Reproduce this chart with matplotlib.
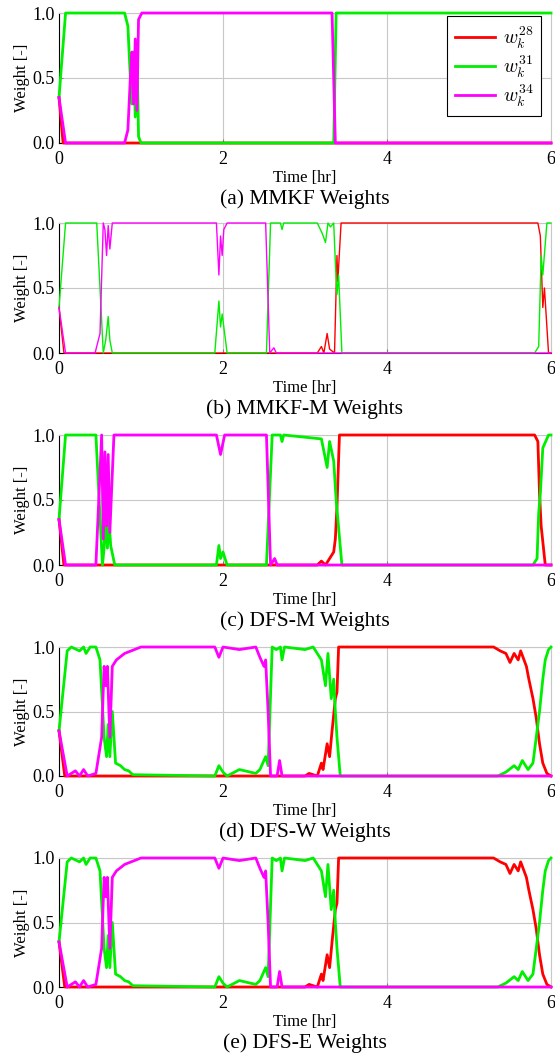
import matplotlib
matplotlib.use("Agg")
import matplotlib.pyplot as plt

plt.rcParams['font.family'] = ['Liberation Serif', 'DejaVu Serif']
plt.rcParams['mathtext.fontset'] = 'cm'

# ---------------- data ----------------
# (a) MMKF
a_t28 = [0, 0.05, 6]
a_w28 = [0.35, 0.0, 0.0]
a_t31 = [0, 0.08, 0.80, 0.84, 0.87, 0.89, 0.91, 0.93, 0.95, 0.97, 1.0, 3.35, 3.38, 6]
a_w31 = [0.35, 1.0, 1.0, 0.9, 0.5, 0.3, 0.7, 0.2, 0.75, 0.05, 0.0, 0.0, 1.0, 1.0]
a_t34 = [0, 0.08, 0.80, 0.84, 0.87, 0.89, 0.91, 0.93, 0.95, 0.97, 1.01, 3.33, 3.37, 6]
a_w34 = [0.35, 0.0, 0.0, 0.1, 0.5, 0.7, 0.3, 0.8, 0.25, 0.95, 1.0, 1.0, 0.0, 0.0]

# (b) MMKF-M
b_t28 = [0, 0.06, 3.15, 3.2, 3.23, 3.27, 3.3, 3.36, 3.39, 3.40, 3.44, 5.84, 5.87, 5.9, 5.92, 5.97, 6]
b_w28 = [0.35, 0.0, 0.0, 0.05, 0.0, 0.15, 0.03, 0.0, 0.75, 0.55, 1.0, 1.0, 0.9, 0.35, 0.5, 0.0, 0.0]
b_t31 = [0, 0.08, 0.46, 0.54, 0.57, 0.60, 0.62, 0.65, 1.90, 1.95, 1.97, 1.99, 2.05, 2.53, 2.58,
         2.7, 2.72, 2.74, 3.15, 3.21, 3.25, 3.28, 3.31, 3.35, 3.37, 3.39, 3.41, 3.45,
         5.80, 5.85, 5.88, 5.90, 5.95, 6]
b_w31 = [0.35, 1.0, 1.0, 0.0, 0.1, 0.28, 0.1, 0.0, 0.0, 0.4, 0.2, 0.3, 0.0, 0.0, 1.0,
         1.0, 0.95, 1.0, 1.0, 0.92, 0.85, 1.0, 0.97, 1.0, 0.7, 0.45, 0.6, 0.0,
         0.0, 0.05, 0.75, 0.6, 1.0, 1.0]
b_t34 = [0, 0.08, 0.44, 0.50, 0.54, 0.56, 0.58, 0.60, 0.62, 0.65, 1.92, 1.95, 1.97, 1.99, 2.01, 2.05,
         2.52, 2.57, 2.62, 2.65, 6]
b_w34 = [0.35, 0.0, 0.0, 0.15, 1.0, 0.95, 0.75, 0.98, 0.8, 1.0, 1.0, 0.6, 0.9, 0.75, 0.95, 1.0,
         1.0, 0.0, 0.04, 0.0, 0.0]

# (c) DFS-M
c_t28 = [0, 0.06, 3.15, 3.2, 3.25, 3.3, 3.35, 3.37, 3.39, 3.42, 5.80, 5.84, 5.86, 5.88, 5.93, 6]
c_w28 = [0.35, 0.0, 0.0, 0.03, 0.0, 0.05, 0.1, 0.2, 0.45, 1.0, 1.0, 0.95, 0.55, 0.3, 0.0, 0.0]
c_t31 = [0, 0.08, 0.45, 0.53, 0.55, 0.57, 0.59, 0.61, 0.63, 0.68, 1.92, 1.95, 1.97, 2.0, 2.05,
         2.53, 2.6, 2.7, 2.72, 2.74, 3.2, 3.27, 3.3, 3.35, 3.38, 3.45,
         5.78, 5.83, 5.85, 5.87, 5.9, 5.97, 6]
c_w31 = [0.35, 1.0, 1.0, 0.0, 0.13, 0.4, 0.13, 0.35, 0.15, 0.0, 0.0, 0.15, 0.05, 0.1, 0.0,
         0.0, 1.0, 1.0, 0.95, 1.0, 0.97, 0.75, 0.95, 0.8, 0.5, 0.0,
         0.0, 0.05, 0.4, 0.55, 0.9, 1.0, 1.0]
c_t34 = [0, 0.08, 0.45, 0.52, 0.54, 0.56, 0.58, 0.60, 0.62, 0.67, 1.92, 1.97, 2.02,
         2.53, 2.58, 2.63, 2.66, 6]
c_w34 = [0.35, 0.0, 0.0, 1.0, 0.2, 0.87, 0.3, 0.85, 0.25, 1.0, 1.0, 0.85, 1.0,
         1.0, 0.0, 0.05, 0.0, 0.0]

# (d) DFS-W
d_t28 = [0, 0.07, 3.0, 3.05, 3.15, 3.2, 3.22, 3.27, 3.3, 3.33, 3.37, 3.39, 3.41,
         5.3, 5.38, 5.45, 5.5, 5.55, 5.6, 5.63, 5.7, 5.73, 5.78, 5.82, 5.86, 5.9, 5.95, 6]
d_w28 = [0.35, 0.0, 0.0, 0.02, 0.0, 0.1, 0.05, 0.25, 0.15, 0.35, 0.6, 0.65, 1.0,
         1.0, 0.97, 0.95, 0.88, 0.95, 0.9, 0.97, 0.85, 0.75, 0.6, 0.45, 0.25, 0.1, 0.02, 0.0]
d_t31 = [0, 0.1, 0.15, 0.25, 0.3, 0.33, 0.38, 0.45, 0.5, 0.55, 0.58, 0.6, 0.62, 0.65, 0.67,
         0.69, 0.75, 0.8, 0.85, 0.9, 1.9, 1.95, 2.0, 2.05, 2.2, 2.4, 2.45, 2.52, 2.55, 2.6,
         2.65, 2.7, 2.72, 2.75, 3.0, 3.1, 3.2, 3.25, 3.28, 3.32, 3.35, 3.37, 3.39, 3.43,
         5.35, 5.45, 5.55, 5.6, 5.65, 5.72, 5.78, 5.82, 5.86, 5.9, 5.93, 5.97, 6]
d_w31 = [0.35, 0.97, 1.0, 0.97, 1.0, 0.95, 1.0, 1.0, 0.9, 0.3, 0.15, 0.4, 0.15, 0.5, 0.3,
         0.1, 0.08, 0.05, 0.04, 0.01, 0.0, 0.08, 0.03, 0.0, 0.05, 0.02, 0.05, 0.15, 0.08, 1.0,
         0.98, 1.0, 0.9, 1.0, 0.98, 1.0, 0.9, 0.7, 0.95, 0.6, 0.75, 0.5, 0.3, 0.0,
         0.0, 0.03, 0.08, 0.05, 0.12, 0.05, 0.1, 0.3, 0.5, 0.75, 0.9, 0.98, 1.0]
d_t34 = [0, 0.1, 0.2, 0.25, 0.3, 0.35, 0.45, 0.52, 0.55, 0.57, 0.59, 0.62, 0.65, 0.7, 0.8,
         1.0, 1.9, 1.95, 2.0, 2.2, 2.4, 2.45, 2.5, 2.52, 2.55, 2.58, 2.66, 2.69, 2.72, 6]
d_w34 = [0.35, 0.0, 0.04, 0.0, 0.05, 0.0, 0.02, 0.3, 0.85, 0.7, 0.85, 0.3, 0.85, 0.9, 0.95,
         1.0, 1.0, 0.92, 1.0, 0.98, 1.0, 0.92, 0.85, 0.9, 0.5, 0.0, 0.0, 0.12, 0.0, 0.0]

# (e) DFS-E
e_t28 = list(d_t28)
e_w28 = list(d_w28)
e_t31 = list(d_t31)
e_w31 = list(d_w31)
e_t34 = list(d_t34)
e_w34 = list(d_w34)

captions = ['(a) MMKF Weights', '(b) MMKF-M Weights', '(c) DFS-M Weights',
            '(d) DFS-W Weights', '(e) DFS-E Weights']
panels = [
    (a_t28, a_w28, a_t31, a_w31, a_t34, a_w34),
    (b_t28, b_w28, b_t31, b_w31, b_t34, b_w34),
    (c_t28, c_w28, c_t31, c_w31, c_t34, c_w34),
    (d_t28, d_w28, d_t31, d_w31, d_t34, d_w34),
    (e_t28, e_w28, e_t31, e_w31, e_t34, e_w34),
]
widths = [2.0, 1.0, 2.0, 2.0, 2.0]
labels = [r'$w_k^{28}$', r'$w_k^{31}$', r'$w_k^{34}$']
colors = ['#ff0000', '#00ee00', '#ff00ff']

# ---------------- figure ----------------
W, H = 555, 1053
fig = plt.figure(figsize=(W / 100, H / 100), dpi=100)
tops = [13, 223, 435, 647, 858]
bots = [143, 353, 565, 776, 987]
left, right = 59, 551

for i, (data, cap) in enumerate(zip(panels, captions)):
    ax = fig.add_axes([left / W, 1 - bots[i] / H, (right - left) / W, (bots[i] - tops[i]) / H])
    for j in range(3):
        ax.plot(data[2 * j], data[2 * j + 1], color=colors[j], lw=widths[i],
                label=labels[j], clip_on=False, zorder=3)
    ax.set_xlim(0, 6)
    ax.set_ylim(0, 1)
    ax.set_xticks([0, 2, 4, 6])
    ax.set_yticks([0, 0.5, 1.0])
    ax.set_yticklabels(['0.0', '0.5', '1.0'])
    ax.grid(True, color='#c8c8c8', lw=0.8)
    ax.tick_params(direction='in', length=3, labelsize=13, color='#808080')
    ax.tick_params(axis='x', pad=6)
    ax.tick_params(axis='y', pad=3)
    for s in ['top', 'right']:
        ax.spines[s].set_color('#c8c8c8')
    ax.spines['left'].set_color('black')
    ax.spines['bottom'].set_color('black')
    ax.set_ylabel('Weight [-]', fontsize=12, labelpad=2)
    ax.set_xlabel('Time [hr]', fontsize=12, labelpad=1)
    fig.text((left + right) / 2 / W, 1 - (bots[i] + 56) / H, cap, ha='center', va='center', fontsize=15.5)
    if i == 0:
        leg = ax.legend(loc='upper right', bbox_to_anchor=(541 / W, 1 - 16 / H),
                        bbox_transform=fig.transFigure, fontsize=14, frameon=True,
                        fancybox=False, edgecolor='black', framealpha=1,
                        handlelength=2.05, handletextpad=0.4, borderaxespad=0,
                        labelspacing=0.12, borderpad=0.4)
        leg.get_frame().set_linewidth(0.8)
        leg.set_zorder(5)

fig.savefig('out.png', dpi=100)
